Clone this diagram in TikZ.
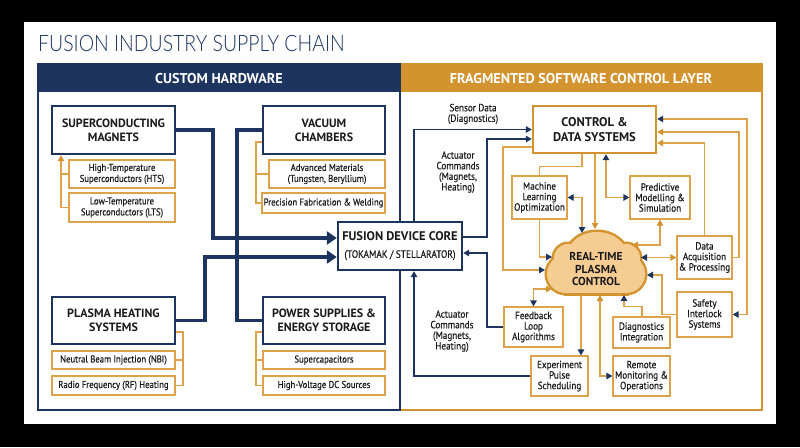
\documentclass[tikz,border=0pt]{standalone}
\usepackage{fontspec}
\setmainfont{PT Sans}
\newfontfamily\cond{PT Sans}[FakeStretch=0.88, FakeBold=0.4]
\newfontfamily\titlefont{Lato Light}[FakeStretch=0.86]
\usetikzlibrary{arrows.meta}
\definecolor{navy}{HTML}{1D355E}
\definecolor{gold}{HTML}{D39430}
\definecolor{orl}{HTML}{DDA24A}
\definecolor{cloudfill}{HTML}{F5CD92}
\definecolor{txt}{HTML}{1A1A1A}
\tikzset{
  NT/.tip={Triangle[length=6pt,width=6.5pt,color=navy]},
  OT/.tip={Triangle[length=6pt,width=6.5pt,color=gold]},
  BT/.tip={Triangle[length=10pt,width=13pt,color=navy]},
  hwbox/.style={draw=navy, line width=2.4pt, fill=white, text=txt, align=center, inner sep=0pt,
    font=\bfseries\fontsize{12}{14}\selectfont},
  subbox/.style={draw=orl, line width=1.1pt, fill=white, text=txt, align=center, inner sep=0pt,
    font=\cond\fontsize{9.9}{11}\selectfont},
  ctrlbox/.style={draw=gold, line width=2.4pt, fill=white, text=txt, align=center, inner sep=0pt,
    font=\bfseries\fontsize{12.6}{15}\selectfont},
  swbox/.style={draw=orl, line width=1.2pt, fill=white, text=txt, align=center, inner sep=0pt,
    font=\cond\fontsize{10.4}{10.5}\selectfont},
  lbl/.style={text=txt, align=center, inner sep=0pt, font=\cond\fontsize{10.4}{10.6}\selectfont},
  hdr/.style={text=white, inner sep=0pt, font=\bfseries\fontsize{14.2}{16}\selectfont},
  bigc/.style={navy, line width=3.6pt},
  medc/.style={navy, line width=1.8pt},
  thinc/.style={orl, line width=1.2pt},
}
\begin{document}
\begin{tikzpicture}[x=1pt,y=-1pt]
\useasboundingbox (0,0) rectangle (800,447);
\fill[black] (0,0) rectangle (800,447);
\fill[white] (24,22) rectangle (776,424);

% title
\node[anchor=base west, inner sep=0pt, text=navy, font=\titlefont\fontsize{22.6}{25}\selectfont] (title) at (38,51.5) {FUSION INDUSTRY SUPPLY CHAIN};

% panels
\fill[navy] (38,64) rectangle (400,92);
\fill[gold] (400,64) rectangle (762,92);
\draw[gold, line width=1.5pt] (400,64) rectangle (762,410);
\draw[navy, line width=1.5pt] (38,64) rectangle (400,410);
\node[hdr] (hleft) at (219,78.5) {CUSTOM HARDWARE};
\node[hdr] (hright) at (581,78.5) {FRAGMENTED SOFTWARE CONTROL LAYER};

% left panel boxes
\node[hwbox, minimum width=123pt, minimum height=48pt] (mag) at (113.5,130) {SUPERCONDUCTING\\MAGNETS};
\node[subbox, minimum width=106pt, minimum height=28pt] (hts) at (122,174) {High-Temperature\\Superconductors (HTS)};
\node[subbox, minimum width=106pt, minimum height=29pt] (lts) at (122,207.5) {Low-Temperature\\Superconductors (LTS)};

\node[hwbox, minimum width=122pt, minimum height=48pt] (vac) at (324,130) {VACUUM\\CHAMBERS};
\node[subbox, minimum width=116pt, minimum height=28pt] (adv) at (327,174) {Advanced Materials\\(Tungsten, Beryllium)};
\node[subbox, minimum width=123pt, minimum height=20pt] (prec) at (323.5,203) {Precision Fabrication \& Welding};

\node[hwbox, minimum width=123pt, minimum height=47pt] (plasma) at (113.5,320.5) {PLASMA HEATING\\SYSTEMS};
\node[subbox, minimum width=123pt, minimum height=18pt] (nbi) at (113.5,360) {Neutral Beam Injection (NBI)};
\node[subbox, minimum width=123pt, minimum height=19pt] (rf) at (113.5,385.5) {Radio Frequency (RF) Heating};

\node[hwbox, minimum width=122pt, minimum height=47pt] (power) at (324,320.5) {POWER SUPPLIES \&\\ENERGY STORAGE};
\node[subbox, minimum width=122pt, minimum height=18pt] (supc) at (324,360) {Supercapacitors};
\node[subbox, minimum width=122pt, minimum height=19pt] (hvdc) at (324,385.5) {High-Voltage DC Sources};

% core
\node[draw=navy, line width=2.4pt, fill=white, text=txt, align=center, inner sep=0pt,
  minimum width=124pt, minimum height=48pt] (core) at (400,246)
  {{\bfseries\fontsize{12.5}{13}\selectfont FUSION DEVICE CORE}\\[5pt]{\cond\fontsize{10.6}{11}\selectfont (TOKAMAK / STELLARATOR)}};

% left connectors
\draw[bigc, -BT] (mag.east) -- (213,130) -- (213,238) -- ([yshift=8pt]core.west);
\draw[bigc] (vac.west) -- (237,130) -- (237,238);
\draw[bigc] (power.west) -- (237,320.5) -- (237,238);
\draw[bigc, -BT] (plasma.east) -- (205,320.5) -- (205,257) -- ([yshift=-11pt]core.west);

% brackets
\draw[thinc, -OT] (lts.west) -- (61,207.5) -- ([xshift=-52.5pt]mag.south);
\draw[thinc] (hts.west) -- (61,174);
\draw[thinc] ([yshift=-12pt]vac.west) -- (256,142) -- (256,203) -- (prec.west);
\draw[thinc] (adv.west) -- (256,174);
\draw[thinc] ([yshift=-11.5pt]plasma.east) -- (183,332) -- (183,385.5) -- (rf.east);
\draw[thinc] (nbi.east) -- (183,360);
\draw[thinc] ([yshift=-11.5pt]power.west) -- (256,332) -- (256,385.5) -- (hvdc.west);
\draw[thinc] (supc.west) -- (256,360);

% right panel boxes
\node[ctrlbox, minimum width=123pt, minimum height=47pt] (ctrl) at (594.5,129.5) {CONTROL \&\\DATA SYSTEMS};
\node[swbox, minimum width=55pt, minimum height=43pt] (ml) at (539.5,197.5) {Machine\\Learning\\Optimization};
\node[swbox, minimum width=60pt, minimum height=43pt] (pred) at (660,197.5) {Predictive\\Modelling \&\\Simulation};
\node[swbox, minimum width=55pt, minimum height=43pt] (daq) at (704.5,257.5) {Data\\Acquisition\\\& Processing};
\node[swbox, minimum width=55pt, minimum height=45pt] (safety) at (704.5,314.5) {Safety\\Interlock\\Systems};
\node[swbox, minimum width=59pt, minimum height=40pt] (fb) at (533.5,327) {Feedback\\Loop\\Algorithms};
\node[swbox, minimum width=57pt, minimum height=31pt] (diag) at (641.5,332.5) {Diagnostics\\Integration};
\node[swbox, minimum width=57pt, minimum height=40pt] (exp) at (559.5,376) {Experiment\\Pulse\\Scheduling};
\node[swbox, minimum width=57pt, minimum height=40pt] (remote) at (641.5,376) {Remote\\Monitoring \&\\Operations};

% cloud
\filldraw[fill=cloudfill, draw=gold, line width=5pt] (597,256) circle[x radius=30pt, y radius=24pt];
\foreach \cx/\cy/\r in {568/258/14, 626/258/14, 566/274/19, 626/274/19}
  \filldraw[fill=cloudfill, draw=gold, line width=5pt] (\cx,\cy) circle[radius=\r pt];
\filldraw[fill=cloudfill, draw=gold, line width=5pt] (566,258) rectangle (626,293);
\fill[cloudfill] (597,256) circle[x radius=30pt, y radius=24pt];
\foreach \cx/\cy/\r in {568/258/14, 626/258/14, 566/274/19, 626/274/19}
  \fill[cloudfill] (\cx,\cy) circle[radius=\r pt];
\fill[cloudfill] (566,258) rectangle (626,293);
\node[text=txt, align=center, inner sep=0pt, font=\bfseries\fontsize{11.5}{12.3}\selectfont] (cloud) at (596,269) {REAL-TIME\\PLASMA\\CONTROL};

\coordinate (clb) at (595,229);
\coordinate (cld) at (582,233);
\coordinate (cle) at (552,257);
\coordinate (clf) at (545,270);
\coordinate (clg) at (632,245);
\coordinate (clh) at (641,257.5);
\coordinate (cll) at (647,275);
\coordinate (clm) at (552,289);
\coordinate (cln) at (581,295);
\coordinate (clo) at (600,295);
\coordinate (clp) at (624,295);

% core <-> control connectors
\draw[medc, -NT] ([xshift=14pt]core.north) |- (ctrl.west);
\draw[medc, -NT] ([yshift=9pt]core.east) -- (487,237) |- ([yshift=-9.5pt]ctrl.west);
\draw[medc, -NT] (fb.west) -- (487,327) |- ([yshift=-7pt]core.east);
\draw[medc, -NT] (exp.west) -| ([xshift=14pt]core.south);

% software connectors
\draw[thinc] ([xshift=-12.5pt]ctrl.south) -- ++(0,12) -| (ml.north);
\draw[thinc, -OT] ([xshift=0.5pt]ctrl.south) -- (clb);
\draw[thinc, NT-NT] ([xshift=11.5pt]ctrl.south) |- (pred.west);
\draw[thinc, NT-NT] (ml.east) -| (cld);
\draw[thinc, -NT] (ml.south) |- (cle);
\draw[thinc, -NT] ([yshift=-17.5pt]ctrl.west) -- (503,147) |- (clf);
\draw[thinc, OT-OT] (clg) -| (pred.south);
\draw[thinc, NT-OT] (clh) -- (daq.west);
\draw[thinc, -OT] (daq.north) |- ([yshift=-13.5pt]ctrl.east);
\draw[thinc, -OT] (daq.east) -- (739,257.5) |- ([yshift=-2.5pt]ctrl.east);
\draw[thinc, NT-NT] ([yshift=10.5pt]ctrl.east) -- (747,119) |- (safety.east);
\draw[thinc, -NT] (safety.west) -- (662,314.5) |- (cll);
\draw[thinc, NT-OT] (fb.north) |- (clm);
\draw[thinc, -NT] (cln) -- ([xshift=21.5pt]exp.north);
\draw[thinc, OT-NT] (clo) |- (remote.west);
\draw[thinc, -NT] ([xshift=0.5pt]diag.north) -- ++(0,-10) -| (clp);

% labels
\node[lbl] (lsensor) at (473,114) {Sensor Data\\(Diagnostics)};
\node[lbl] (lact1) at (458,172) {Actuator\\Commands\\(Magnets,\\Heating)};
\node[lbl] (lact2) at (452,331) {Actuator\\Commands\\(Magnets,\\Heating)};
\end{tikzpicture}
\end{document}
